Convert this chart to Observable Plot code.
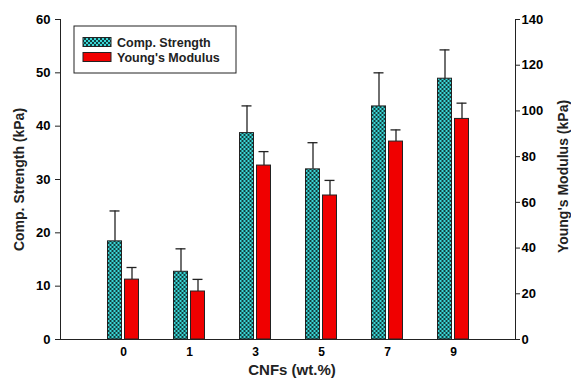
<!DOCTYPE html>
<html><head><meta charset="utf-8">
<script src="https://cdn.jsdelivr.net/npm/d3@7"></script>
<script src="https://cdn.jsdelivr.net/npm/@observablehq/plot@0.6"></script>
<style>
body{margin:0;background:#fff;}
svg{font-family:"Liberation Sans",Arial,sans-serif;font-weight:bold;}
</style></head><body>
<div id="chart"></div>
<script>
const cnf = ["0","1","3","5","7","9"];
const compStrength = [18.4, 12.7, 38.7, 31.9, 43.7, 48.9];
const compErr = [5.7, 4.3, 5.1, 5.0, 6.3, 5.4];
const youngs = [26.2, 21.0, 76.1, 63.0, 86.6, 96.5];
const youngsErr = [5.3, 5.3, 6.1, 6.6, 5.1, 6.9];
const leftTicks = [0,10,20,30,40,50,60];
const rightTicks = [0,20,40,60,80,100,120,140];
const seriesNames = ["Comp. Strength","Young's Modulus"];
const k = 60/140;

const comp = cnf.map((c,i)=>({cnf:c, v:compStrength[i], top:compStrength[i]+compErr[i]}));
const yng = cnf.map((c,i)=>({cnf:c, v:youngs[i]*k, top:(youngs[i]+youngsErr[i])*k}));

const ink = "#222";
const svg = Plot.plot({
  width:571, height:379,
  marginLeft:60, marginRight:56, marginTop:19, marginBottom:40,
  x:{domain:cnf, paddingInner:0.79, paddingOuter:0.82, axis:null},
  y:{domain:[0,60], axis:null},
  marks:[
    Plot.axisX({tickSize:0, tickPadding:8, fontSize:12, label:null}),
    Plot.axisY(leftTicks, {tickSize:5, tickPadding:5, fontSize:13, label:null, stroke:ink}),
    Plot.axisY(rightTicks.map(d=>d*k), {anchor:"right", tickSize:4, tickPadding:2, fontSize:13, label:null, stroke:ink, tickFormat:d=>String(Math.round(d/k))}),
    Plot.frame({anchor:"left", stroke:ink}),
    Plot.frame({anchor:"right", stroke:ink}),
    Plot.ruleY([0], {stroke:ink}),
    Plot.ruleX(comp, {x:"cnf", y1:"v", y2:"top", dx:-8.5, stroke:ink, strokeWidth:1.3}),
    Plot.tickY(comp, {x:"cnf", y:"top", dx:-8.5, insetLeft:2, insetRight:2, stroke:ink, strokeWidth:1.3}),
    Plot.ruleX(yng, {x:"cnf", y1:"v", y2:"top", dx:8.5, stroke:ink, strokeWidth:1.3}),
    Plot.tickY(yng, {x:"cnf", y:"top", dx:8.5, insetLeft:2, insetRight:2, stroke:ink, strokeWidth:1.3}),
    Plot.barY(comp, {x:"cnf", y:"v", dx:-8.5, fill:"url(#checker)", stroke:ink, strokeWidth:1}),
    Plot.barY(yng, {x:"cnf", y:"v", dx:8.5, fill:"#f00000", stroke:ink, strokeWidth:1}),
    Plot.text(["Comp. Strength (kPa)"], {frameAnchor:"left", dx:-41, rotate:-90, textAnchor:"middle", lineAnchor:"middle", fontSize:14, fill:ink}),
    Plot.text(["Young's Modulus (kPa)"], {frameAnchor:"right", dx:48, dy:-3, rotate:-90, textAnchor:"middle", lineAnchor:"middle", fontSize:14, fill:ink}),
    Plot.text(["CNFs (wt.%)"], {frameAnchor:"bottom", dy:31, dx:4, lineAnchor:"middle", fontSize:15, fill:ink})
  ]
});
const s = d3.select(svg);
const defs = s.insert("defs", ":first-child");
const p = defs.append("pattern").attr("id","checker").attr("patternUnits","userSpaceOnUse").attr("width",4).attr("height",4);
p.append("rect").attr("width",4).attr("height",4).attr("fill","#123f3f");
p.append("rect").attr("width",2).attr("height",2).attr("fill","#3ad6d6");
p.append("rect").attr("x",2).attr("y",2).attr("width",2).attr("height",2).attr("fill","#3ad6d6");
// legend
const lg = s.append("g").attr("text-anchor","start");
lg.append("rect").attr("x",74).attr("y",26).attr("width",162).attr("height",47).attr("fill","#fff").attr("stroke",ink);
const fills = ["url(#checker)","#f00000"];
seriesNames.forEach((name,i)=>{
  lg.append("rect").attr("x",83).attr("y",37.5+i*15).attr("width",28).attr("height",9).attr("fill",fills[i]).attr("stroke",ink);
  lg.append("text").attr("x",117).attr("y",46.5+i*15).attr("font-size",12.5).attr("fill",ink).text(name);
});
document.getElementById("chart").appendChild(svg);
</script></body></html>
